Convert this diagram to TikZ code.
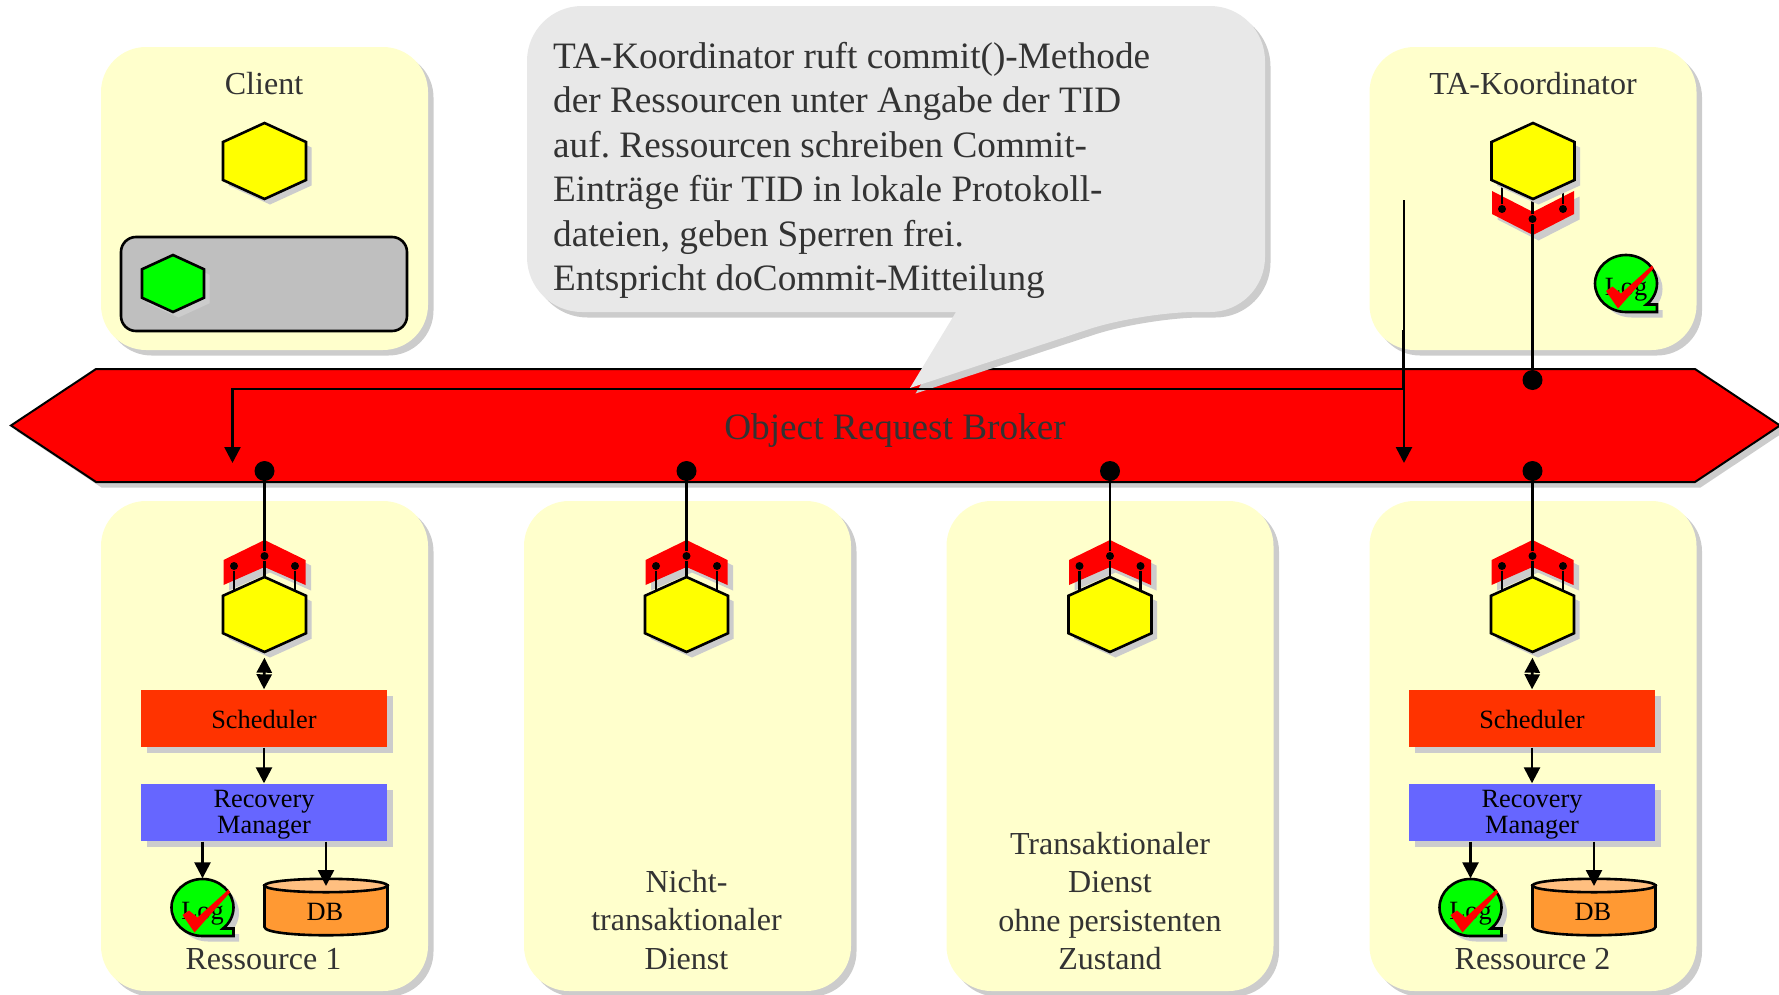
\documentclass[tikz,border=0pt]{standalone}
\usepackage{fontspec}
\setmainfont{Liberation Serif}
\frenchspacing
\usetikzlibrary{arrows.meta,shadows}
\definecolor{panelcol}{HTML}{FFFFCC}
\definecolor{shadecol}{HTML}{CCCCCC}
\definecolor{talkcol}{HTML}{E8E8E8}
\definecolor{schedcol}{HTML}{FF3300}
\definecolor{recovcol}{HTML}{6666FF}
\definecolor{dbcol}{HTML}{FF9933}
\definecolor{dbtop}{HTML}{FFBF80}
\definecolor{textcol}{HTML}{333333}
\definecolor{hexcol}{HTML}{FFFF00}
\definecolor{stubcol}{HTML}{00FF00}
\definecolor{brokercol}{HTML}{FF0000}
\definecolor{stubbox}{HTML}{BFBFBF}
\tikzset{
  shade3/.style = {drop shadow={shadow xshift=0.55mm,shadow yshift=-0.55mm,fill=shadecol,opacity=1}},
  panel/.style = {fill=panelcol,rounded corners=4.5mm,minimum width=32.7mm,inner sep=0,shade3},
  unitbox/.style = {minimum width=24.6mm,minimum height=5.7mm,inner sep=0,shade3},
  large/.style = {font=\fontsize{10.6}{12.67}\selectfont,text=textcol,inner sep=0},
  label/.style = {font=\fontsize{9.12}{10.9}\selectfont,text=textcol,inner sep=0,align=center},
  small/.style = {font=\fontsize{7.5}{7.4}\selectfont,inner sep=0,align=center},
  port/.style = {circle,fill,inner sep=0,minimum size=2mm},
  pin/.style = {circle,fill,inner sep=0,minimum size=0.8mm},
  outline/.style = {draw,line width=0.26mm,line join=miter},
  flow/.style = {line width=0.26mm,-{Triangle[width=1.6mm,length=1.6mm]}},
  flowboth/.style = {line width=0.26mm,{Triangle[width=1.5mm,length=1.5mm]}-{Triangle[width=1.5mm,length=1.5mm]}},
  wire/.style = {line width=0.26mm},
}
% name, x, y, half width, half height, colour
\newcommand{\hexa}[6]{
  \draw[outline,fill=#6,shade3] ({#2},{#3-#5}) -- ({#2+#4},{#3-#5/2}) -- ({#2+#4},{#3+#5/2})
    -- ({#2},{#3+#5}) -- ({#2-#4},{#3+#5/2}) -- ({#2-#4},{#3-#5/2}) -- cycle;
  \node[inner sep=0,minimum width={2*#4*0.1mm},minimum height={2*#5*0.1mm}] (#1) at (#2,#3) {};
}
% name, x, y
\newcommand{\logsign}[3]{
  \begin{scope}[shift={(#2,#3)}]
    \draw[outline,fill=stubcol,shade3] (0,28.5) .. controls (-17,28.5) and (-31,15.7) .. (-31,0)
      .. controls (-31,-15.7) and (-17,-28.5) .. (0,-28.5)
      .. controls (17,-28.5) and (31,-15.7) .. (31,0)
      .. controls (31,8) and (27,16) .. (20.5,21) -- (31,21) -- (31,28.5) -- cycle;
    \node[inner sep=0,minimum width=6.2mm,minimum height=5.7mm] (#1) at (0,0) {};
    \node[small] (#1text) at (0,6) {Log};
    \fill[brokercol] (-20,7.5) -- (-13.5,3) -- (-5,10) -- (26,-18) -- (27.5,-15) -- (-8,25) -- cycle;
  \end{scope}
}
% name, x
\newcommand{\lowerobj}[2]{
  \fill[brokercol,shade3] ({#2-41},560) -- (#2,540) -- ({#2+41},560) -- ({#2+41},585) -- (#2,567) -- ({#2-41},585) -- cycle;
  \node[pin] (#1l) at ({#2-30.5},566) {};
  \node[pin] (#1c) at (#2,556) {};
  \node[pin] (#1r) at ({#2+30.5},566) {};
  \coordinate (#1m) at (#2,614);
  \draw[wire] (#1l) -- (#1l |- #1m);
  \draw[wire] (#1c) -- (#1m);
  \draw[wire] (#1r) -- (#1r |- #1m);
  \hexa{#1}{#2}{614.5}{41.5}{37.5}{hexcol}
  \node[port] (#1port) at (#2,471) {};
  \draw[wire] (#1port) -- (#1c);
}
% number, x
\newcommand{\resstack}[2]{
  \node[unitbox,fill=schedcol] (sched#1) at ({#2-0.5},718.5) {};
  \node[small] (schedtext#1) at ({#2-0.5},719.6) {Scheduler};
  \node[unitbox,fill=recovcol] (recov#1) at ({#2-0.5},812.5) {};
  \node[small] (recovtext#1) at ({#2-0.5},814.8) {Recovery\\Manager};
  \logsign{log#1}{#2-62}{907.5}
  \draw[outline,fill=dbcol] ({#2},885.5) -- ({#2+123},885.5) -- ({#2+123},927) .. controls ({#2+123},938) and ({#2},938) .. ({#2},927) -- cycle;
  \draw[outline,fill=dbtop] ({#2+61.5},885.5) ellipse (61.5 and 6.7);
  \node[small] (db#1) at ({#2+60.5},912) {DB};
  \coordinate (db#1top) at ({#2+61.5},886);
  \draw[flowboth,shorten <=0.5mm] (res#1.south) -- (sched#1.north);
  \draw[flow] (sched#1.south) -- (recov#1.north);
  \draw[flow] (recov#1.south -| log#1.north) -- (log#1.north);
  \draw[flow] (recov#1.south -| db#1top) -- (db#1top);
}
\begin{document}
\begin{tikzpicture}[x=0.1mm,y=-0.1mm]
  \clip (0,0) rectangle (1779,995);
  \node[panel,minimum height=30.3mm] (pclient) at (264.5,198.5) {};
  \node[panel,minimum height=30.3mm] (pkoord) at (1533,198.5) {};
  \node[panel,minimum height=49mm] (pres1) at (264.5,746) {};
  \node[panel,minimum height=49mm] (pnontx) at (687.5,746) {};
  \node[panel,minimum height=49mm] (ptx) at (1110,746) {};
  \node[panel,minimum height=49mm] (pres2) at (1533,746) {};

  \draw[line width=0.2mm,fill=brokercol,shade3] (11,425.5) -- (96,369) -- (1695,369) -- (1780,425.5) -- (1695,482) -- (96,482) -- cycle;
  \node[large] (orb) at (895,430.5) {Object Request Broker};

  \fill[talkcol,shade3,rounded corners=5.5mm] (527,6) -- (1265,6) -- (1265,312) -- (1141,312) [sharp corners] -- (910,388) -- (956,312) [rounded corners=5.5mm] -- (527,312) -- cycle;
  \node[large,align=left,anchor=west] (talk) at (552.5,170.5) {TA-Koordinator ruft commit()-Methode\\der Ressourcen unter Angabe der TID\\auf. Ressourcen schreiben Commit-\\Einträge für TID in lokale Protokoll-\\dateien, geben Sperren frei.\\Entspricht doCommit-Mitteilung};

  \node[label] (lclient) at (264,84) {Client};
  \hexa{client}{264.5}{161}{41.5}{38}{hexcol}
  \draw[outline,fill=stubbox,rounded corners=1.5mm] (121,237) rectangle (407,331);
  \hexa{stub}{173}{283.5}{31}{28.5}{stubcol}

  \node[label] (lkoord) at (1533,84) {TA-Koordinator};
  \fill[brokercol,shade3] (1492,191) -- (1533,212) -- (1574,191) -- (1574,214) -- (1533,235) -- (1492,214) -- cycle;
  \node[pin] (kl) at (1502,209) {};
  \node[pin] (kc) at (1532.5,219) {};
  \node[pin] (kr) at (1563,209) {};
  \coordinate (km) at (1532.5,161);
  \draw[wire] (kl) -- (kl |- km);
  \draw[wire] (kc) -- (km);
  \draw[wire] (kr) -- (kr |- km);
  \hexa{koord}{1533}{161}{41.5}{38}{hexcol}
  \logsign{logk}{1626}{283.5}
  \node[port] (kport) at (1532.5,380) {};
  \draw[wire] (kport) -- (kc);

  \lowerobj{res1}{264.5}
  \lowerobj{nontx}{686.5}
  \lowerobj{tx}{1110}
  \lowerobj{res2}{1532.5}
  \resstack{1}{264.5}
  \resstack{2}{1532.5}

  \node[label] (lres1) at (263.5,959) {Ressource 1};
  \node[label] (lnontx) at (686.5,920) {Nicht-\\transaktionaler\\Dienst};
  \node[label] (ltx) at (1110,901) {Transaktionaler\\Dienst\\ohne persistenten\\Zustand};
  \node[label] (lres2) at (1532.5,959) {Ressource 2};

  \coordinate (a1) at (1404,200);
  \coordinate (a2) at (1404,463);
  \coordinate (b1) at (1403,330);
  \coordinate (b2) at (1403,389);
  \coordinate (b3) at (232.5,389);
  \coordinate (b4) at (232.5,463);
  \draw[flow] (a1) -- (a2);
  \draw[flow] (b1) -- (b2) -- (b3) -- (b4);
\end{tikzpicture}
\end{document}
